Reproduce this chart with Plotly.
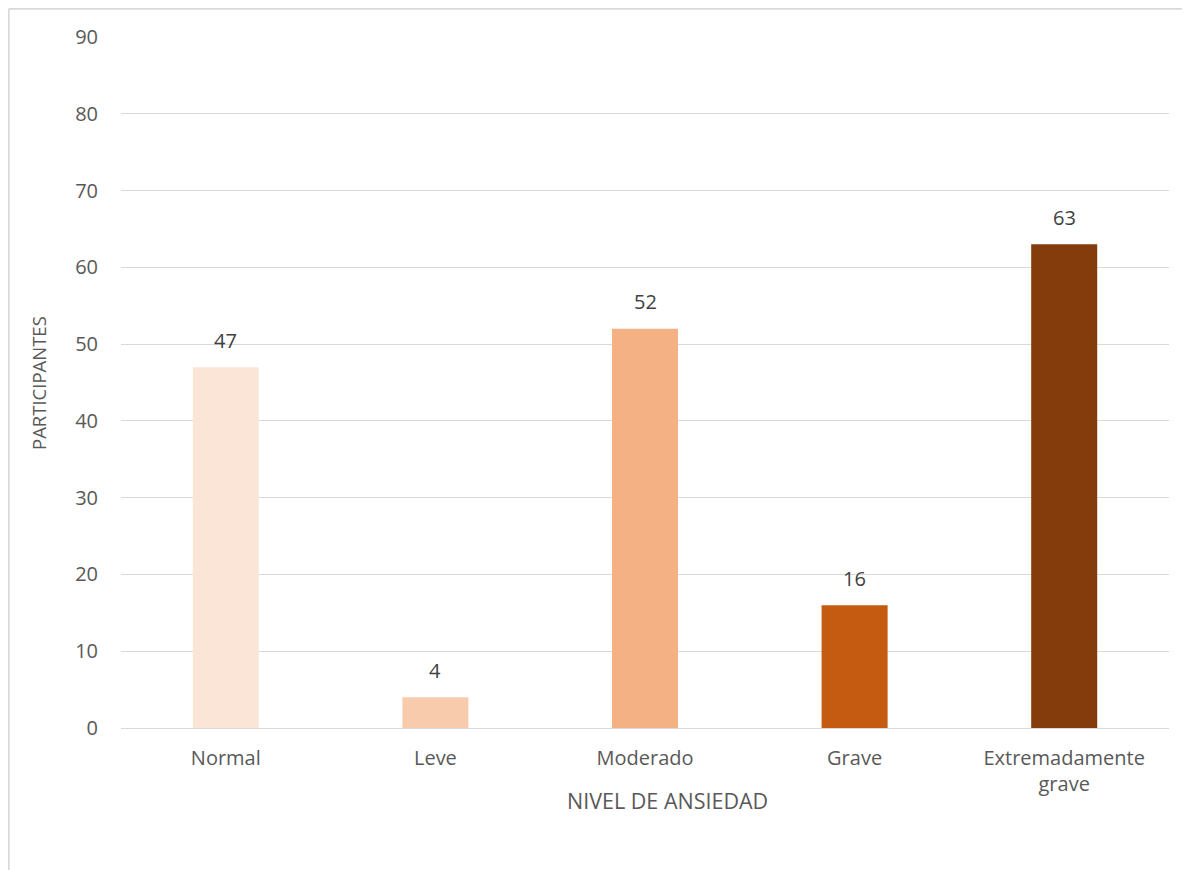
import plotly.graph_objects as go

categories = ["Normal", "Leve", "Moderado", "Grave", "Extremadamente<br>grave"]
values = [47, 4, 52, 16, 63]
colors = ["#FBE5D6", "#F8CBAD", "#F4B183", "#C55A11", "#843C0C"]
y_ticks = [0, 10, 20, 30, 40, 50, 60, 70, 80, 90]

OFF = 8  # page body margin
W, H = 1190 - OFF, 870 - OFF
L, R, T, B = 121 - OFF, 1169 - OFF, 37 - OFF, 728 - OFF

fig = go.Figure(go.Bar(
    x=categories, y=values, marker=dict(color=colors, line=dict(width=0)),
    hoverinfo="x+y",
))

def px_x(p):
    return (p - OFF - L) / (R - L)

def px_y(p):
    return (B - (p - OFF)) / (B - T)

annotations = [
    dict(text=str(v), x=c, y=v, xref="x", yref="y", yshift=27, showarrow=False,
         xanchor="center", yanchor="middle", font=dict(size=20, color="#404040"))
    for c, v in zip(categories, values)
]
annotations += [
    dict(text="PARTICIPANTES", xref="paper", yref="paper", x=px_x(38), y=px_y(383),
         textangle=-90, showarrow=False, font=dict(size=18.5, color="#595959"),
         xanchor="center", yanchor="middle"),
    dict(text="NIVEL DE ANSIEDAD", xref="paper", yref="paper", x=px_x(667), y=px_y(800),
         showarrow=False, font=dict(size=21.5, color="#595959"),
         xanchor="center", yanchor="middle"),
]

fig.update_layout(
    width=W, height=H,
    margin=dict(l=L, r=W - R, t=T, b=H - B),
    paper_bgcolor="white", plot_bgcolor="white",
    bargap=0.685,
    showlegend=False,
    font=dict(family="Open Sans", color="#595959", size=20),
    xaxis=dict(showgrid=False, showline=False, ticks="", ticklabelstandoff=16,
               tickfont=dict(size=20, color="#595959")),
    yaxis=dict(range=[0, 90], tickvals=y_ticks, showgrid=True, gridcolor="#D9D9D9", gridwidth=1.3,
               zeroline=True, zerolinecolor="#D9D9D9", zerolinewidth=1.3, showline=False,
               ticks="", ticklabelstandoff=22, tickfont=dict(size=20, color="#595959")),
    annotations=annotations,
    shapes=[
        dict(type="line", xref="paper", yref="paper", x0=px_x(8.8), x1=px_x(8.8), y0=px_y(8.8), y1=px_y(880),
             line=dict(color="#D9D9D9", width=1.8)),
        dict(type="line", xref="paper", yref="paper", x0=px_x(8.8), x1=px_x(1200), y0=px_y(8.8), y1=px_y(8.8),
             line=dict(color="#D9D9D9", width=1.8)),
    ],
)
fig.write_html("out.html")
